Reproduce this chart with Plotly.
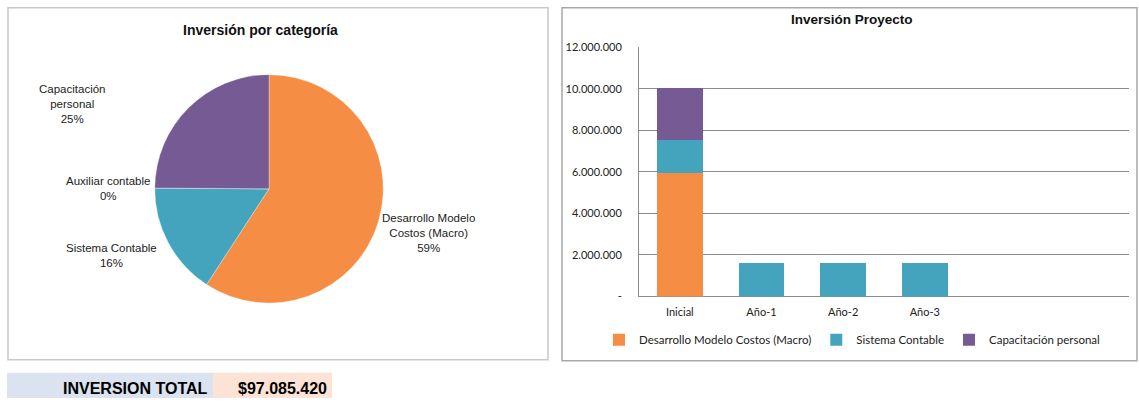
import plotly.graph_objects as go

W, H = 1139, 404

# ---- data ----
pie_labels = ["Desarrollo Modelo Costos (Macro)", "Sistema Contable", "Auxiliar contable", "Capacitación personal"]
pie_values = [5950000, 1600000, 0, 2500000]
pie_colors = ["#F68D45", "#44A4BE", "#9BBB59", "#765A93"]

periods = ["Inicial", "Año-1", "Año-2", "Año-3"]
desarrollo = [5950000, 0, 0, 0]
sistema = [1600000, 1600000, 1600000, 1600000]
capacitacion = [2500000, 0, 0, 0]
series_names = ["Desarrollo Modelo Costos (Macro)", "Sistema Contable", "Capacitación personal"]
series_colors = ["#F68D45", "#44A4BE", "#765A93"]

y_ticks = [0, 2000000, 4000000, 6000000, 8000000, 10000000, 12000000]
total_text = "$97.085.420"

# vertical layout correction (observed page capture compression)
VS, VO = 0.966, 7.0


def px(x):
    return x / W


def py(y):
    yy = (y - VO) / VS
    return min(1.0, max(0.0, 1 - yy / H))


def fmt(v):
    return "-" if v == 0 else f"{v:,}".replace(",", ".")


fig = go.Figure()

fig.add_trace(go.Pie(
    labels=pie_labels, values=pie_values, sort=False, direction="clockwise",
    rotation=0, marker=dict(colors=pie_colors, line=dict(color="rgba(255,255,255,0.6)", width=0.5)),
    textinfo="none", showlegend=False,
    domain=dict(x=[px(269 - 118), px(269 + 118)], y=[py(188.5 + 114), py(188.5 - 114)]),
))

for name, vals, col in zip(series_names, [desarrollo, sistema, capacitacion], series_colors):
    fig.add_trace(go.Bar(x=periods, y=vals, name=name, marker=dict(color=col, line=dict(width=0)),
                         xaxis="x", yaxis="y"))

total = sum(pie_values)
pct = [round(v / total * 100) for v in pie_values]
label_text = {
    0: f"Desarrollo Modelo<br>Costos (Macro)<br>{pct[0]}%",
    1: f"Sistema Contable<br>{pct[1]}%",
    2: f"Auxiliar contable<br>{pct[2]}%",
    3: f"Capacitación<br>personal<br>{pct[3]}%",
}
label_pos = {0: (428, 233), 1: (111, 255), 2: (108, 188), 3: (72, 104)}

annotations = []
for i, t in label_text.items():
    x, y = label_pos[i]
    annotations.append(dict(text=t, x=px(x), y=py(y), xref="paper", yref="paper", showarrow=False,
                            xanchor="center", yanchor="middle", align="center",
                            font=dict(family="Liberation Sans, Arial", size=11.5, color="#222222")))

annotations += [
    dict(text="<b>Inversión por categoría</b>", x=px(260), y=py(30), xref="paper", yref="paper",
         showarrow=False, xanchor="center", yanchor="middle",
         font=dict(family="Liberation Sans, Arial", size=14, color="#111111")),
    dict(text="<b>Inversión Proyecto</b>", x=px(852), y=py(19), xref="paper", yref="paper",
         showarrow=False, xanchor="center", yanchor="middle",
         font=dict(family="Liberation Sans, Arial", size=13.5, color="#111111")),
    dict(text="<b>INVERSION TOTAL</b>", x=px(210), y=py(388), xref="paper", yref="paper",
         showarrow=False, xanchor="right", yanchor="middle",
         font=dict(family="Liberation Sans, Arial", size=16, color="#000000")),
    dict(text=f"<b>{total_text}</b>", x=px(329), y=py(388), xref="paper", yref="paper",
         showarrow=False, xanchor="right", yanchor="middle",
         font=dict(family="Liberation Sans, Arial", size=16, color="#000000")),
]

shapes = [
    dict(type="rect", xref="paper", yref="paper", x0=px(8), x1=px(548), y0=py(359), y1=py(5) - 0.002,
         line=dict(color="#C8C8C8", width=1.5), fillcolor="rgba(0,0,0,0)", layer="below"),
    dict(type="rect", xref="paper", yref="paper", x0=px(562), x1=px(1137), y0=py(360), y1=py(5) - 0.002,
         line=dict(color="#A8A8A8", width=1.5), fillcolor="rgba(0,0,0,0)", layer="below"),
    dict(type="rect", xref="paper", yref="paper", x0=px(7), x1=px(213), y0=py(403), y1=py(372),
         line=dict(width=0), fillcolor="#DAE3EF", layer="below"),
    dict(type="rect", xref="paper", yref="paper", x0=px(213), x1=px(332), y0=py(403), y1=py(372),
         line=dict(width=0), fillcolor="#FCE3D5", layer="below"),
]

fig.update_layout(
    width=W, height=H, margin=dict(l=0, r=0, t=0, b=0),
    paper_bgcolor="white", plot_bgcolor="white",
    barmode="stack", bargap=0.44,
    xaxis=dict(domain=[px(639), px(1129)], type="category", range=[-0.5, 5.5],
               showgrid=False, showline=False, ticks="", zeroline=False,
               tickfont=dict(family="Lato, Carlito, sans-serif", size=11, color="#222222"),
               anchor="y", ticklabelstandoff=7),
    yaxis=dict(domain=[py(296), py(47)], range=[0, 12000000], tickvals=y_ticks,
               ticktext=[fmt(v) for v in y_ticks], showgrid=True, gridcolor="#8C8C8C", gridwidth=1,
               showline=True, linecolor="#8C8C8C", linewidth=1, zeroline=True, zerolinecolor="#8C8C8C",
               zerolinewidth=1, ticks="", ticklabelstandoff=14,
               tickfont=dict(family="Lato, Carlito, sans-serif", size=11, color="#222222"),
               anchor="x"),
    legend=dict(orientation="h", x=px(852), xanchor="center", y=py(339), yanchor="middle",
                font=dict(family="Lato, Carlito, sans-serif", size=11.5, color="#222222"),
                bgcolor="rgba(0,0,0,0)", traceorder="normal"),
    annotations=annotations, shapes=shapes,
)

post = (
    "document.documentElement.style.margin='0';document.documentElement.style.overflow='hidden';"
    "document.body.style.margin='0';document.body.style.overflow='hidden';"
    "var d=document.querySelector('.plotly-graph-div');"
    "d.style.position='fixed';d.style.top='0px';d.style.left='0px';"
)
fig.write_html("out.html", config={"displayModeBar": False}, post_script=post)
